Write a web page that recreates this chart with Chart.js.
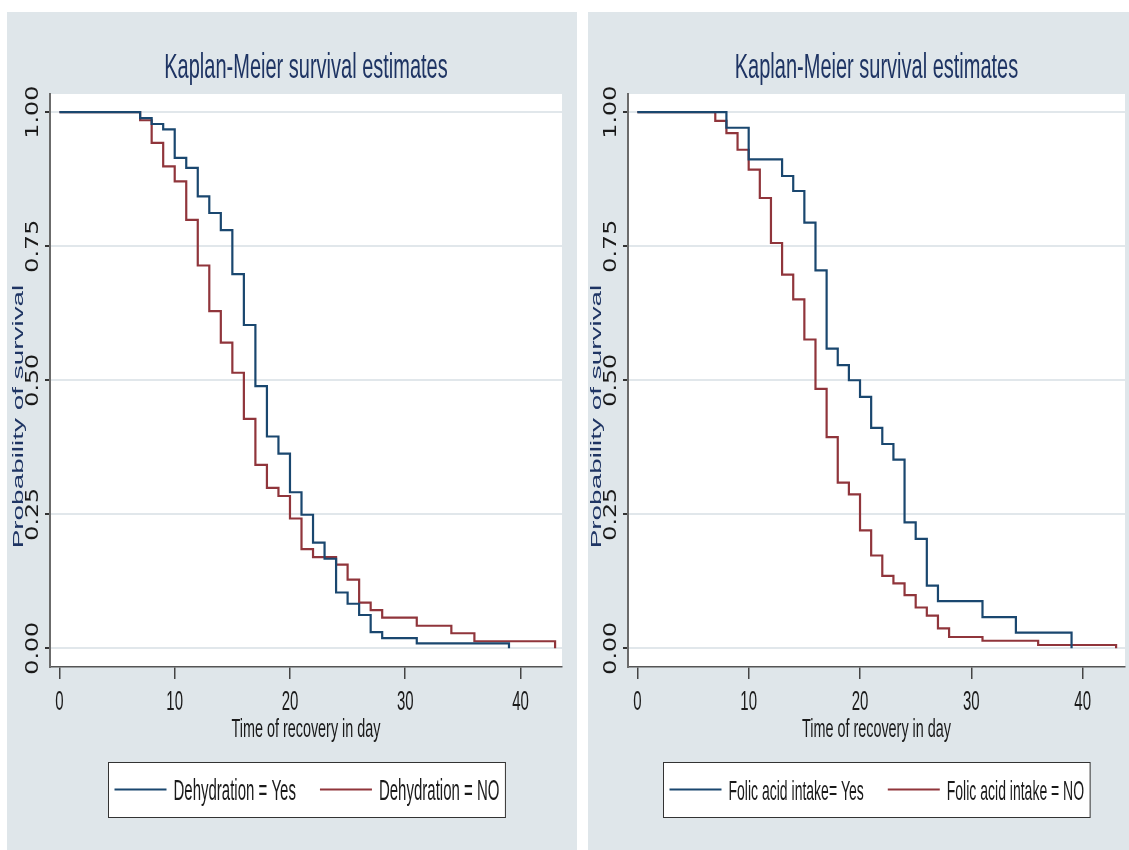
<!DOCTYPE html>
<html lang="en">
<head>
<meta charset="UTF-8">
<title>Kaplan-Meier survival estimates</title>
<script src="https://cdn.jsdelivr.net/npm/chart.js@4.4.0/dist/chart.umd.min.js"></script>
<style>
body{margin:0;background:#fff;width:1129px;height:850px;overflow:hidden;position:relative}
.panel{position:absolute;top:12px;height:838px;background:#dfe6ea}
#leftPanel{left:7px;width:570px}
#rightPanel{left:588px;width:541px}
canvas{display:block}
</style>
</head>
<body>

<div class="panel" id="leftPanel"><canvas id="kmLeft" width="570" height="838"></canvas></div>
<div class="panel" id="rightPanel"><canvas id="kmRight" width="541" height="838"></canvas></div>

<script>
/* ---------- data ---------- */
const xTicks = [0, 10, 20, 30, 40];
const yTicks = [0, 0.25, 0.5, 0.75, 1];
const yTickLabels = ['0.00', '0.25', '0.50', '0.75', '1.00'];

// left panel: dehydration
const dehydYesT = [0, 7, 8, 9, 10, 11, 12, 13, 14, 15, 16, 17, 18, 19, 20, 21, 22, 23, 24, 25, 26, 27, 28, 31, 39];
const dehydYesS = [1, .989, .978, .968, .915, .896, .843, .812, .780, .698, .603, .489, .395, .363, .291, .249, .197, .167, .104, .083, .062, .030, .019, .009, 0];
const dehydNoT  = [0, 7, 8, 9, 10, 11, 12, 13, 14, 15, 16, 17, 18, 19, 20, 21, 22, 24, 25, 26, 27, 28, 31, 34, 36, 43];
const dehydNoS  = [1, .985, .943, .899, .871, .799, .714, .629, .570, .514, .428, .342, .299, .284, .242, .185, .170, .156, .128, .085, .071, .057, .042, .028, .013, 0];

// right panel: folic acid intake
const folicYesT = [0, 8, 10, 13, 14, 15, 16, 17, 18, 19, 20, 21, 22, 23, 24, 25, 26, 27, 31, 34, 39];
const folicYesS = [1, .971, .912, .881, .853, .794, .705, .559, .528, .500, .469, .411, .381, .352, .235, .204, .117, .088, .058, .029, 0];
const folicNoT  = [0, 7, 8, 9, 10, 11, 12, 13, 14, 15, 16, 17, 18, 19, 20, 21, 22, 23, 24, 25, 26, 27, 28, 31, 36, 43];
const folicNoS  = [1, .984, .961, .930, .893, .840, .756, .697, .651, .576, .484, .394, .309, .287, .220, .173, .135, .121, .099, .076, .061, .037, .021, .014, .006, 0];

/* ---------- look ---------- */
const FONT = "'Liberation Sans', Arial, sans-serif";
const NAVY = '#1e3463';
const BLUE = '#1a476f', RED = '#90353b';

// Stata-ish text: stretched along (sx) / across (sy)
function txt(ctx, s, x, y, o) {
  ctx.save();
  ctx.translate(x, y);
  if (o.rot) ctx.rotate(o.rot);
  ctx.scale(o.sx || 1, o.sy || 1);
  ctx.font = o.size + 'px ' + (o.family || FONT);
  ctx.fillStyle = o.color || '#1a1a1a';
  ctx.textAlign = o.align || 'center';
  ctx.textBaseline = o.base || 'alphabetic';
  ctx.fillText(s, 0, 0);
  ctx.restore();
}

const stataLook = {
  id: 'stataLook',
  beforeDraw(chart) {
    const {ctx, chartArea: a} = chart;
    ctx.save();
    ctx.fillStyle = '#fff';
    ctx.fillRect(a.left, a.top, a.right - a.left, a.bottom - a.top);
    ctx.restore();
  },
  afterDraw(chart, args, opts) {
    const {ctx, chartArea: a, scales: {x, y}} = chart;
    const cx = (a.left + a.right) / 2;

    txt(ctx, opts.title, cx, 66, {size: 20, sy: 1.75, color: NAVY});

    x.ticks.forEach(t => txt(ctx, String(t.value), x.getPixelForValue(t.value), a.bottom + 43, {size: 15, sy: 1.8}));
    txt(ctx, opts.xTitle, cx, a.bottom + 70, {size: 14.4, sy: 1.8});

    y.ticks.forEach((t, i) => txt(ctx, yTickLabels[i], a.left - 16, y.getPixelForValue(t.value),
      {size: 17, sx: 1.4, rot: -Math.PI / 2, base: 'middle', family: "'DejaVu Sans', sans-serif"}));
    txt(ctx, opts.yTitle, a.left - 31, (a.top + a.bottom) / 2 + 36,
      {size: 15.5, sx: 1.8, rot: -Math.PI / 2, base: 'middle', color: NAVY});

    /* legend box */
    const fs = opts.legendSize, lineW = 52, gapL = 7, gapItem = 24, pad = 6;
    ctx.save();
    ctx.font = fs + 'px ' + FONT;
    const items = chart.data.datasets.map(d => ({label: d.label, color: d.borderColor, w: ctx.measureText(d.label).width}));
    ctx.restore();
    const w = pad * 2 + items.reduce((s, it) => s + lineW + gapL + it.w, 0) + gapItem * (items.length - 1);
    const bx = Math.round(cx - w / 2) + 0.5, by = a.bottom + 95.5, bh = 55;
    ctx.save();
    ctx.fillStyle = '#fff';
    ctx.fillRect(bx, by, w, bh);
    ctx.strokeStyle = '#333';
    ctx.lineWidth = 1;
    ctx.strokeRect(bx, by, w, bh);
    let px = bx + pad;
    items.forEach(it => {
      ctx.strokeStyle = it.color;
      ctx.lineWidth = 2;
      ctx.beginPath();
      ctx.moveTo(px, by + 27);
      ctx.lineTo(px + lineW, by + 27);
      ctx.stroke();
      px += lineW + gapL;
      txt(ctx, it.label, px, by + 37, {size: fs, sy: 1.95, align: 'left'});
      px += it.w + gapItem;
    });
    ctx.restore();
  }
};

function kmChart(id, p) {
  const mk = (label, ts, ss, color) => ({
    label, borderColor: color, borderWidth: 2.2, stepped: true, pointRadius: 0, fill: false,
    data: ts.map((t, i) => ({x: t, y: ss[i]}))
  });
  return new Chart(document.getElementById(id), {
    type: 'line',
    data: {datasets: [mk(p.labels[0], p.yesT, p.yesS, BLUE), mk(p.labels[1], p.noT, p.noS, RED)]},
    options: {
      responsive: false, animation: false, devicePixelRatio: 1,
      layout: {padding: {left: 0, top: 82, right: p.padRight, bottom: 163}},
      scales: {
        x: {
          type: 'linear', min: p.xMin, max: p.xMax,
          afterBuildTicks: s => { s.ticks = xTicks.map(v => ({value: v})); },
          afterFit: s => { s.height = 20; },
          ticks: {display: false},
          grid: {display: true, drawOnChartArea: false, tickLength: 12, tickColor: '#444', lineWidth: 1.5},
          border: {display: true, color: '#555', width: 1.5}
        },
        y: {
          type: 'linear', min: -0.035, max: 1.034,
          afterBuildTicks: s => { s.ticks = yTicks.map(v => ({value: v})); },
          afterFit: s => { s.width = p.yAxisW; },
          ticks: {display: false},
          grid: {color: '#e1e7eb', lineWidth: 2, tickLength: 5, tickColor: '#333'},
          border: {display: true, color: '#6b6b6b', width: 2}
        }
      },
      plugins: {
        legend: {display: false},
        tooltip: {enabled: false},
        stataLook: {
          title: 'Kaplan-Meier survival estimates',
          xTitle: 'Time of recovery in day',
          yTitle: 'Probability of survival',
          legendSize: p.legendSize
        }
      }
    },
    plugins: [stataLook]
  });
}

kmChart('kmLeft', {
  labels: ['Dehydration = Yes', 'Dehydration = NO'],
  yesT: dehydYesT, yesS: dehydYesS, noT: dehydNoT, noS: dehydNoS,
  xMin: -0.82, xMax: 43.6, yAxisW: 43, padRight: 15, legendSize: 15
});
kmChart('kmRight', {
  labels: ['Folic acid intake= Yes', 'Folic acid intake = NO'],
  yesT: folicYesT, yesS: folicYesS, noT: folicNoT, noS: folicNoS,
  xMin: -0.84, xMax: 43.8, yAxisW: 40, padRight: 4, legendSize: 14
});
</script>
</body>
</html>
